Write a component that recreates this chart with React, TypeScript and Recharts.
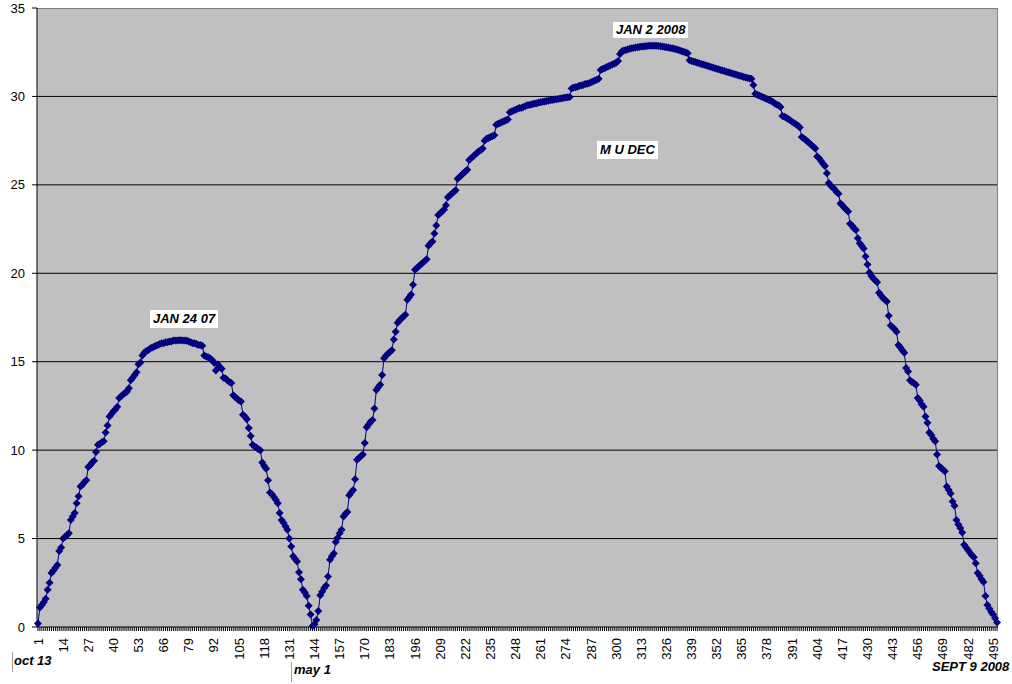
import { CartesianGrid, Line, LineChart, XAxis, YAxis, usePlotArea } from "recharts";

const FONT = "'Liberation Sans', Arial, sans-serif";
const NAVY = "#000080";

// M U DEC, one value per day (day 1 = oct 13)
const muDec = [
  0.2, 1.1, 1.25, 1.4, 1.6, 2.1, 2.5, 3.05, 3.2, 3.35,
  3.5, 4.3, 4.5, 5.0, 5.1, 5.2, 5.3, 6.05, 6.25, 6.45,
  7.0, 7.4, 7.95, 8.05, 8.2, 8.3, 9.05, 9.15, 9.3, 9.4,
  9.9, 10.3, 10.35, 10.45, 10.5, 11.0, 11.4, 11.9, 12.05, 12.2,
  12.3, 12.45, 12.95, 13.05, 13.15, 13.25, 13.3, 13.5, 13.95, 14.1,
  14.25, 14.4, 14.85, 14.95, 15.35, 15.5, 15.6, 15.65, 15.75, 15.8,
  15.85, 15.9, 15.95, 16.0, 16.05, 16.05, 16.1, 16.1, 16.15, 16.15,
  16.2, 16.2, 16.2, 16.22, 16.22, 16.2, 16.2, 16.18, 16.15, 16.1,
  16.05, 16.05, 16.0, 15.95, 15.95, 15.9, 15.35, 15.3, 15.25, 15.2,
  15.1, 14.95, 14.5, 14.85, 14.7, 14.6, 14.1, 14.05, 13.95, 13.85,
  13.8, 13.1, 13.0, 12.9, 12.8, 12.75, 12.0, 11.9, 11.75, 11.25,
  10.8, 10.3, 10.2, 10.15, 10.05, 10.0, 9.3, 9.1, 8.95, 8.3,
  7.6, 7.5, 7.35, 7.2, 7.0, 6.45, 6.05, 5.9, 5.7, 5.5,
  5.0, 4.55, 4.0, 3.85, 3.7, 3.1, 2.7, 2.1, 1.95, 1.75,
  1.2, 0.7, 0.05, 0.15, 0.4, 0.9, 1.8, 2.0, 2.2, 2.35,
  2.85, 3.8, 4.0, 4.15, 4.8, 5.05, 5.3, 5.5, 6.25, 6.4,
  6.5, 7.45, 7.6, 7.75, 8.35, 9.45, 9.55, 9.65, 9.75, 10.4,
  11.3, 11.45, 11.6, 11.7, 12.35, 13.4, 13.55, 13.7, 14.25, 15.2,
  15.35, 15.45, 15.55, 15.65, 16.25, 16.7, 17.2, 17.35, 17.45, 17.55,
  17.65, 18.5, 18.65, 18.8, 19.35, 20.2, 20.3, 20.4, 20.5, 20.6,
  20.7, 20.8, 21.55, 21.7, 21.8, 22.25, 22.7, 23.3, 23.4, 23.5,
  23.6, 23.85, 24.3, 24.4, 24.5, 24.6, 24.7, 25.35, 25.45, 25.55,
  25.65, 25.75, 25.85, 26.4, 26.5, 26.6, 26.7, 26.8, 26.9, 26.95,
  27.05, 27.5, 27.6, 27.65, 27.7, 27.75, 27.8, 28.4, 28.45, 28.5,
  28.55, 28.6, 28.65, 28.7, 29.1, 29.15, 29.2, 29.25, 29.3, 29.35,
  29.35, 29.4, 29.45, 29.5, 29.52, 29.55, 29.57, 29.6, 29.62, 29.65,
  29.67, 29.7, 29.72, 29.74, 29.76, 29.78, 29.8, 29.82, 29.84, 29.86,
  29.88, 29.9, 29.92, 29.94, 29.95, 29.97, 30.45, 30.5, 30.52, 30.55,
  30.6, 30.62, 30.65, 30.7, 30.72, 30.75, 30.8, 30.85, 30.9, 30.95,
  31.0, 31.5, 31.55, 31.6, 31.65, 31.7, 31.75, 31.8, 31.85, 31.9,
  32.0, 32.4, 32.55, 32.6, 32.63, 32.66, 32.7, 32.72, 32.74, 32.76,
  32.78, 32.8, 32.82, 32.83, 32.84, 32.85, 32.86, 32.87, 32.87, 32.87,
  32.86, 32.85, 32.84, 32.82, 32.8, 32.78, 32.76, 32.74, 32.72, 32.7,
  32.67, 32.64, 32.6, 32.56, 32.52, 32.48, 32.44, 32.05, 32.0, 31.97,
  31.94, 31.9, 31.87, 31.84, 31.8, 31.77, 31.74, 31.7, 31.67, 31.64,
  31.6, 31.57, 31.54, 31.5, 31.47, 31.44, 31.4, 31.37, 31.34, 31.3,
  31.27, 31.24, 31.2, 31.17, 31.14, 31.1, 31.07, 31.04, 31.02, 31.0,
  30.65, 30.15, 30.1, 30.05, 30.0, 29.95, 29.9, 29.85, 29.8, 29.75,
  29.7, 29.6, 29.55, 29.5, 29.4, 28.9, 28.85, 28.8, 28.72, 28.65,
  28.57, 28.5, 28.42, 28.35, 28.25, 27.7, 27.62, 27.55, 27.45, 27.35,
  27.25, 27.15, 27.05, 26.6, 26.5, 26.35, 26.2, 26.07, 25.65, 25.1,
  24.95, 24.85, 24.75, 24.6, 24.5, 23.95, 23.85, 23.7, 23.6, 23.5,
  22.8, 22.7, 22.55, 22.45, 21.98, 21.7, 21.55, 21.4, 20.95, 20.5,
  20.05, 19.85, 19.7, 19.6, 19.5, 18.9, 18.75, 18.6, 18.5, 18.4,
  17.6, 17.05, 16.95, 16.85, 16.7, 15.95, 15.8, 15.65, 15.5, 14.65,
  14.45, 13.95, 13.85, 13.8, 13.7, 12.95, 12.8, 12.6, 12.45, 11.9,
  11.55, 11.0, 10.85, 10.65, 10.5, 9.75, 9.1, 9.0, 8.9, 8.8,
  7.95, 7.75, 7.55, 7.1, 6.85, 6.05, 5.8, 5.6, 5.35, 4.65,
  4.5, 4.35, 4.2, 4.05, 3.95, 3.6, 3.05, 2.9, 2.7, 2.55,
  1.75, 1.25, 1.05, 0.85, 0.7, 0.5, 0.25,
];

const tickLabels = [
  "1", "14", "27", "40", "53", "66", "79", "92", "105", "118",
  "131", "144", "157", "170", "183", "196", "209", "222", "235", "248",
  "261", "274", "287", "300", "313", "326", "339", "352", "365", "378",
  "391", "404", "417", "430", "443", "456", "469", "482", "495",
];

const yTicks = [0, 5, 10, 15, 20, 25, 30, 35];
const gridValues = [5, 10, 15, 20, 25, 30];

const rows = muDec.map((value, k) => ({ day: String(k + 1), value }));

function DayTick({ x, y, payload }: any) {
  const label = String(payload.value);
  if (!tickLabels.includes(label)) return <g />;
  return (
    <text
      x={x}
      y={y}
      transform={`rotate(-90, ${x}, ${y})`}
      textAnchor="end"
      dy="0.35em"
      fontSize={13}
      fontFamily={FONT}
      fill="#000"
    >
      {label}
    </text>
  );
}

function Diamond({ cx, cy }: any) {
  if (cx == null || cy == null) return <g />;
  const r = 4;
  return (
    <path
      d={`M${cx},${cy - r}L${cx + r},${cy}L${cx},${cy + r}L${cx - r},${cy}Z`}
      fill={NAVY}
    />
  );
}

function PlotFrame() {
  const plot = usePlotArea();
  if (!plot) return null;
  const right = plot.x + plot.width;
  return (
    <g>
      <line x1={plot.x} y1={plot.y + 0.5} x2={right} y2={plot.y + 0.5} stroke="#808080" strokeWidth={1} />
      <line x1={right - 0.5} y1={plot.y} x2={right - 0.5} y2={plot.y + plot.height} stroke="#808080" strokeWidth={1} />
    </g>
  );
}

const noteStyle: React.CSSProperties = {
  position: "absolute",
  fontFamily: FONT,
  fontSize: 13,
  fontWeight: "bold",
  fontStyle: "italic",
  lineHeight: "16px",
  whiteSpace: "nowrap",
  color: "#000",
};

export default function App() {
  return (
    <div
      style={{
        position: "absolute",
        left: 0,
        top: 0,
        width: 1012,
        height: 684,
        background: "#fff",
        fontFamily: FONT,
      }}
    >
      <LineChart
        width={1012}
        height={684}
        data={rows}
        margin={{ top: 8, right: 14, bottom: 0, left: 0 }}
      >
        <CartesianGrid
          vertical={false}
          horizontalValues={gridValues}
          stroke="#000"
          strokeOpacity={1}
          fill="#C0C0C0"
          fillOpacity={1}
        />
        <XAxis
          dataKey="day"
          type="category"
          scale="band"
          interval={0}
          height={57}
          tick={<DayTick />}
          tickSize={4}
          tickMargin={7}
          tickLine={{ stroke: "#000" }}
          axisLine={{ stroke: "#000" }}
        />
        <YAxis
          domain={[0, 35]}
          ticks={yTicks}
          width={37}
          tickSize={5}
          tickMargin={7}
          tick={{ fill: "#000", fontSize: 13, fontFamily: FONT }}
          tickLine={{ stroke: "#000" }}
          axisLine={{ stroke: "#000" }}
        />
        <PlotFrame />
        <Line
          type="linear"
          dataKey="value"
          stroke={NAVY}
          strokeWidth={1}
          dot={<Diamond />}
          activeDot={false}
          isAnimationActive={false}
        />
      </LineChart>

      <div style={{ ...noteStyle, left: 150, top: 310, padding: "1px 3px", background: "#fff" }}>JAN 24 07</div>
      <div style={{ ...noteStyle, left: 613, top: 22, padding: "0 3px", background: "#fff" }}>JAN 2 2008</div>
      <div style={{ ...noteStyle, left: 597, top: 141, padding: "1px 3px", background: "#fff" }}>M U DEC</div>

      <div style={{ position: "absolute", left: 12, top: 652, width: 1, height: 20, background: "#a0a0a0" }} />
      <div style={{ ...noteStyle, left: 14, top: 653 }}>oct 13</div>
      <div style={{ position: "absolute", left: 291, top: 662, width: 1, height: 20, background: "#a0a0a0" }} />
      <div style={{ ...noteStyle, left: 294, top: 662 }}>may 1</div>
      <div style={{ ...noteStyle, left: 932, top: 659 }}>SEPT 9 2008</div>
    </div>
  );
}
